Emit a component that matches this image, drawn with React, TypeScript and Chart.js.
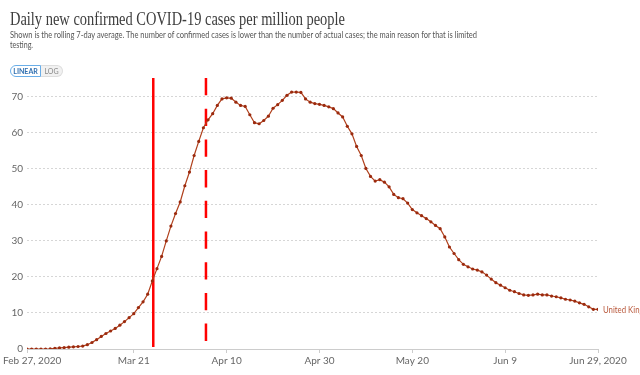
import React, { useEffect, useLayoutEffect, useRef } from 'react';
import { Chart, registerables } from 'chart.js';

Chart.register(...registerables);

// ---- Data ----
const seriesName = 'United Kingdom';
// daily values starting Feb 27, 2020 (index 0) through Jun 29, 2020 (index 123)
const casesPerMillion = [
  0, 0, 0, 0, 0, 0.05, 0.2, 0.3, 0.4, 0.5, 0.6, 0.7, 0.8,
  1.2, 1.8, 2.6, 3.5, 4.3, 5.0, 5.7, 6.6, 7.6, 8.7,
  9.8, 11.5, 13.1, 15.2, 18.9, 22.3, 25.7, 30.0, 34.1, 37.6,
  40.8, 45.3, 49.1, 53.7, 57.6, 61.4, 63.6, 65.3, 67.6, 69.4,
  69.7, 69.6, 68.5, 67.6, 67.3, 65.0, 62.8, 62.5, 63.4, 64.6,
  66.8, 67.8, 69.0, 70.4, 71.3, 71.3, 71.2, 69.4, 68.5, 68.1,
  67.9, 67.6, 67.2, 66.7, 65.5, 64.4, 61.8, 59.7, 56.2, 53.7,
  50.1, 47.9, 46.6, 47.0, 46.3, 45.0, 42.9, 42.0, 41.7, 40.5,
  38.7, 37.8, 37.0, 36.2, 35.3, 34.3, 33.4, 31.1, 28.3, 26.5,
  24.8, 23.5, 22.8, 22.2, 21.9, 21.4, 20.5, 19.4, 18.4, 17.7,
  17.0, 16.3, 15.9, 15.4, 15.0, 14.9, 15.0, 15.2, 15.0, 15.0,
  14.7, 14.5, 14.2, 13.8, 13.6, 13.3, 12.8, 12.4, 11.7, 11.0, 11.0,
];
const xTickDays = [0, 23, 43, 63, 83, 103, 123];
const xTickLabels = ['Feb 27, 2020', 'Mar 21', 'Apr 10', 'Apr 30', 'May 20', 'Jun 9', 'Jun 29, 2020'];
const yTickValues = [0, 10, 20, 30, 40, 50, 60, 70];
const markerDays = [27.2, 38.55];
const markerStyles = ['solid', 'dashed'];

const titleText = 'Daily new confirmed COVID-19 cases per million people';
const subtitleLine1 =
  'Shown is the rolling 7-day average. The number of confirmed cases is lower than the number of actual cases; the main reason for that is limited';
const subtitleLine2 = 'testing.';

function FitText(props: { text: string; left: number; top: number; width: number; style: React.CSSProperties }) {
  const ref = useRef<HTMLSpanElement>(null);
  useLayoutEffect(() => {
    const el = ref.current;
    if (!el) return;
    el.style.transform = 'none';
    const w = el.getBoundingClientRect().width;
    if (w > 0) el.style.transform = `scaleX(${props.width / w})`;
  }, [props.text, props.width]);
  return (
    <span
      ref={ref}
      style={{
        position: 'absolute',
        left: props.left,
        top: props.top,
        whiteSpace: 'nowrap',
        transformOrigin: '0 0',
        lineHeight: 1,
        ...props.style,
      }}
    >
      {props.text}
    </span>
  );
}

const overlayPlugin = {
  id: 'overlay',
  beforeDatasetsDraw(chart: any) {
    const { ctx, chartArea, scales } = chart;
    const x = scales.x;
    ctx.save();
    markerDays.forEach((d, i) => {
      const px = x.getPixelForValue(d);
      ctx.strokeStyle = '#ff0000';
      ctx.lineWidth = 2.5;
      const dashed = markerStyles[i] === 'dashed';
      ctx.setLineDash(dashed ? [17.3, 13.4] : []);
      ctx.beginPath();
      ctx.moveTo(px, chartArea.top);
      ctx.lineTo(px, dashed ? chartArea.bottom : chartArea.bottom - 2);
      ctx.stroke();
    });
    ctx.restore();
  },
  afterDraw(chart: any) {
    const { ctx, chartArea, scales } = chart;
    const x = scales.x;
    const y = scales.y;
    ctx.save();
    ctx.font = '10px Lato';
    ctx.fillStyle = '#666';
    ctx.textBaseline = 'middle';
    ctx.textAlign = 'left';
    xTickDays.forEach((d, i) => {
      const label = xTickLabels[i];
      const w = ctx.measureText(label).width;
      let left = x.getPixelForValue(d) - w / 2;
      if (left < 3) left = 3;
      if (left + w > chart.width - 3) left = chart.width - 3 - w;
      ctx.fillText(label, left, chartArea.bottom + 11.5);
    });
    const last = casesPerMillion.length - 1;
    ctx.fillStyle = '#b8573a';
    ctx.font = '10px Lato';
    ctx.translate(x.getPixelForValue(last) + 5, y.getPixelForValue(casesPerMillion[last]));
    ctx.scale(0.78, 1);
    ctx.fillText(seriesName, 0, 0);
    ctx.restore();
  },
};

export default function App() {
  const canvasRef = useRef<HTMLCanvasElement>(null);

  useEffect(() => {
    const canvas = canvasRef.current;
    if (!canvas) return;
    const chart = new Chart(canvas, {
      type: 'line',
      data: {
        datasets: [
          {
            label: seriesName,
            data: casesPerMillion.map((v, i) => ({ x: i, y: v })),
            borderColor: '#b0401c',
            borderWidth: 1.2,
            pointRadius: 1.6,
            pointBackgroundColor: '#9b2a0e',
            pointBorderWidth: 0,
            tension: 0,
            fill: false,
          },
        ],
      },
      options: {
        responsive: false,
        animation: false,
        layout: { padding: { left: 0, right: 42, top: 78, bottom: 0 } },
        plugins: { legend: { display: false }, tooltip: { enabled: false } },
        scales: {
          x: {
            type: 'linear',
            min: 0,
            max: casesPerMillion.length - 1,
            afterBuildTicks: (s: any) => {
              s.ticks = xTickDays.map((v) => ({ value: v }));
            },
            afterFit: (s: any) => {
              s.height = 26;
            },
            ticks: { display: false },
            grid: { display: true, drawOnChartArea: false, drawTicks: true, tickLength: 4, color: '#ccc' },
            border: { display: true, color: '#ccc' },
          },
          y: {
            type: 'linear',
            min: 0,
            max: 75.2,
            afterBuildTicks: (s: any) => {
              s.ticks = yTickValues.map((v) => ({ value: v }));
            },
            afterFit: (s: any) => {
              s.width = 27;
            },
            ticks: { font: { family: 'Lato', size: 10 }, color: '#666', padding: 4 },
            grid: {
              color: (c: any) => (c.tick && c.tick.value === 0 ? 'rgba(0,0,0,0)' : '#d6d6d6'),
              drawTicks: false,
            },
            border: { display: false, dash: [2, 2] },
          },
        },
      },
      plugins: [overlayPlugin],
    });
    return () => chart.destroy();
  }, []);

  return (
    <div
      style={{
        position: 'fixed',
        left: 0,
        top: 0,
        width: 640,
        height: 375,
        background: '#fff',
        overflow: 'hidden',
      }}
    >
      <canvas
        ref={canvasRef}
        width={640}
        height={375}
        style={{ position: 'absolute', left: 0, top: 0, width: 640, height: 375, display: 'block' }}
      />
      <FitText
        text={titleText}
        left={10}
        top={10}
        width={335}
        style={{ fontFamily: '"Liberation Serif", serif', fontSize: 18, color: '#3d3d3d' }}
      />
      <FitText
        text={subtitleLine1}
        left={10}
        top={29.5}
        width={467}
        style={{ fontFamily: 'Lato, sans-serif', fontSize: 9.5, color: '#555' }}
      />
      <FitText
        text={subtitleLine2}
        left={10}
        top={39.5}
        width={23}
        style={{ fontFamily: 'Lato, sans-serif', fontSize: 9.5, color: '#555' }}
      />
      <div
        style={{
          position: 'absolute',
          left: 10,
          top: 65,
          width: 31,
          height: 12,
          boxSizing: 'border-box',
          border: '1px solid #6aaee8',
          borderRadius: '6px 0 0 6px',
          background: '#fff',
          color: '#2f6fb0',
          fontFamily: 'Lato, sans-serif',
          fontWeight: 700,
          fontSize: 7,
          lineHeight: '10px',
          textAlign: 'center',
        }}
      >
        LINEAR
      </div>
      <div
        style={{
          position: 'absolute',
          left: 41,
          top: 65,
          width: 22,
          height: 12,
          boxSizing: 'border-box',
          border: '1px solid #ddd',
          borderLeft: 'none',
          borderRadius: '0 6px 6px 0',
          background: '#f1f1f1',
          color: '#888',
          fontFamily: 'Lato, sans-serif',
          fontSize: 7,
          lineHeight: '10px',
          textAlign: 'center',
        }}
      >
        LOG
      </div>
    </div>
  );
}
